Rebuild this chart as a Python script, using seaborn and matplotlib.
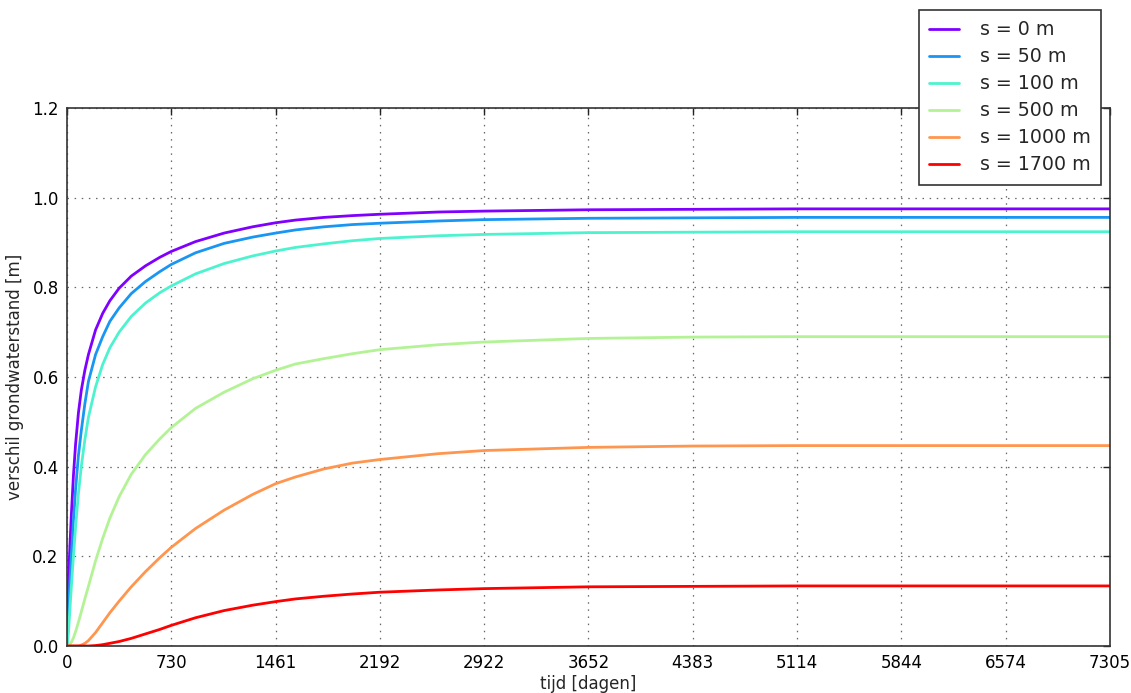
import matplotlib
matplotlib.use("Agg")
import matplotlib.pyplot as plt
from matplotlib import cm
import numpy as np
import pandas as pd
import seaborn as sns

# time axis in days
days = [0, 5, 10, 20, 30, 45, 60, 80, 100, 125, 150, 200, 250, 300, 365, 450,
        550, 650, 730, 900, 1100, 1300, 1461, 1600, 1800, 2000, 2192, 2600,
        2922, 3652, 4383, 5114, 5844, 6574, 7305]

# groundwater level difference [m] at each distance s
h_s0 = [0.0, 0.09, 0.14, 0.22, 0.29, 0.38, 0.45, 0.52, 0.57, 0.615, 0.65, 0.705,
        0.742, 0.770, 0.798, 0.825, 0.848, 0.867, 0.880, 0.902, 0.921, 0.935,
        0.944, 0.950, 0.956, 0.960, 0.963, 0.968, 0.970, 0.973, 0.974, 0.975,
        0.975, 0.975, 0.975]
h_s50 = [0.0, 0.03, 0.07, 0.14, 0.20, 0.28, 0.35, 0.425, 0.48, 0.54, 0.59, 0.65,
         0.69, 0.724, 0.754, 0.786, 0.813, 0.835, 0.851, 0.877, 0.898, 0.912,
         0.921, 0.928, 0.935, 0.940, 0.943, 0.948, 0.951, 0.954, 0.955, 0.956,
         0.956, 0.956, 0.956]
h_s100 = [0.0, 0.01, 0.03, 0.08, 0.13, 0.20, 0.265, 0.34, 0.40, 0.46, 0.51, 0.578,
          0.628, 0.665, 0.70, 0.735, 0.765, 0.788, 0.803, 0.830, 0.853, 0.870,
          0.881, 0.889, 0.897, 0.904, 0.909, 0.915, 0.918, 0.922, 0.923, 0.924,
          0.924, 0.924, 0.924]
h_s500 = [0.0, 0.0, 0.001, 0.003, 0.008, 0.018, 0.032, 0.053, 0.076, 0.105, 0.133,
          0.19, 0.24, 0.285, 0.333, 0.383, 0.427, 0.462, 0.487, 0.530, 0.566,
          0.596, 0.615, 0.629, 0.641, 0.652, 0.661, 0.672, 0.678, 0.686, 0.689,
          0.690, 0.690, 0.690, 0.690]
h_s1000 = [0.0, 0.0, 0.0, 0.0, 0.0, 0.0, 0.0, 0.0, 0.002, 0.006, 0.012, 0.03,
           0.052, 0.074, 0.100, 0.132, 0.166, 0.197, 0.220, 0.262, 0.303, 0.338,
           0.362, 0.377, 0.395, 0.408, 0.416, 0.429, 0.436, 0.443, 0.446, 0.447,
           0.447, 0.447, 0.447]
h_s1700 = [0.0, 0.0, 0.0, 0.0, 0.0, 0.0, 0.0, 0.0, 0.0, 0.0, 0.0, 0.001, 0.003,
           0.006, 0.010, 0.017, 0.027, 0.037, 0.046, 0.063, 0.079, 0.091, 0.099,
           0.105, 0.111, 0.116, 0.120, 0.125, 0.128, 0.132, 0.133, 0.134, 0.134,
           0.134, 0.134]

labels = ["s = 0 m", "s = 50 m", "s = 100 m", "s = 500 m", "s = 1000 m", "s = 1700 m"]
series = [h_s0, h_s50, h_s100, h_s500, h_s1000, h_s1700]

x_ticks = [0, 730, 1461, 2192, 2922, 3652, 4383, 5114, 5844, 6574, 7305]
y_ticks = [0.0, 0.2, 0.4, 0.6, 0.8, 1.0, 1.2]

df = pd.concat(
    [pd.DataFrame({"tijd": days, "h": vals, "afstand": lab}) for lab, vals in zip(labels, series)],
    ignore_index=True,
)

sns.set_style("white")
plt.rcParams["font.family"] = ["DejaVu Sans"]

colors = [tuple(c) for c in cm.rainbow(np.linspace(0, 1, len(labels)))]

fig = plt.figure(figsize=(11.31, 6.93), dpi=100)
ax = fig.add_axes([67 / 1131, 1 - 646 / 693, (1110 - 67) / 1131, (646 - 108) / 693])

sns.lineplot(data=df, x="tijd", y="h", hue="afstand", hue_order=labels,
             palette=colors, estimator=None, sort=False, linewidth=2.0, ax=ax)

ax.set_xlim(0, 7305)
ax.set_ylim(0, 1.2)
ax.set_xticks(x_ticks)
ax.set_xticklabels([str(v) for v in x_ticks])
ax.set_yticks(y_ticks)
ax.set_yticklabels([f"{v:.1f}" for v in y_ticks])

ax.grid(True, color="#666666", linestyle=(0, (1.2, 4.5)), linewidth=0.9)
ax.tick_params(direction="in", length=5, width=1, top=True, right=True,
               labelsize=12, colors="#222222", labelcolor="black", pad=6)
for sp in ax.spines.values():
    sp.set_visible(True)
    sp.set_color("#333333")
    sp.set_linewidth(1.2)

ax.set_xlabel("tijd [dagen]", fontsize=12, labelpad=2)
ax.set_ylabel("verschil grondwaterstand [m]", fontsize=12, labelpad=6)

handles, lbls = ax.get_legend_handles_labels()
leg = ax.legend(handles, lbls, loc="upper right",
                bbox_to_anchor=(1101 / 1131, 1 - 10 / 693),
                bbox_transform=fig.transFigure, borderaxespad=0,
                fontsize=13.7, frameon=True, fancybox=False, framealpha=1,
                edgecolor="#333333", handlelength=1.55, handletextpad=1.1,
                borderpad=0.55, labelspacing=0.42)
leg.get_frame().set_linewidth(1.2)
for ln in leg.get_lines():
    ln.set_linewidth(2.0)

fig.savefig("out.png", dpi=100)
